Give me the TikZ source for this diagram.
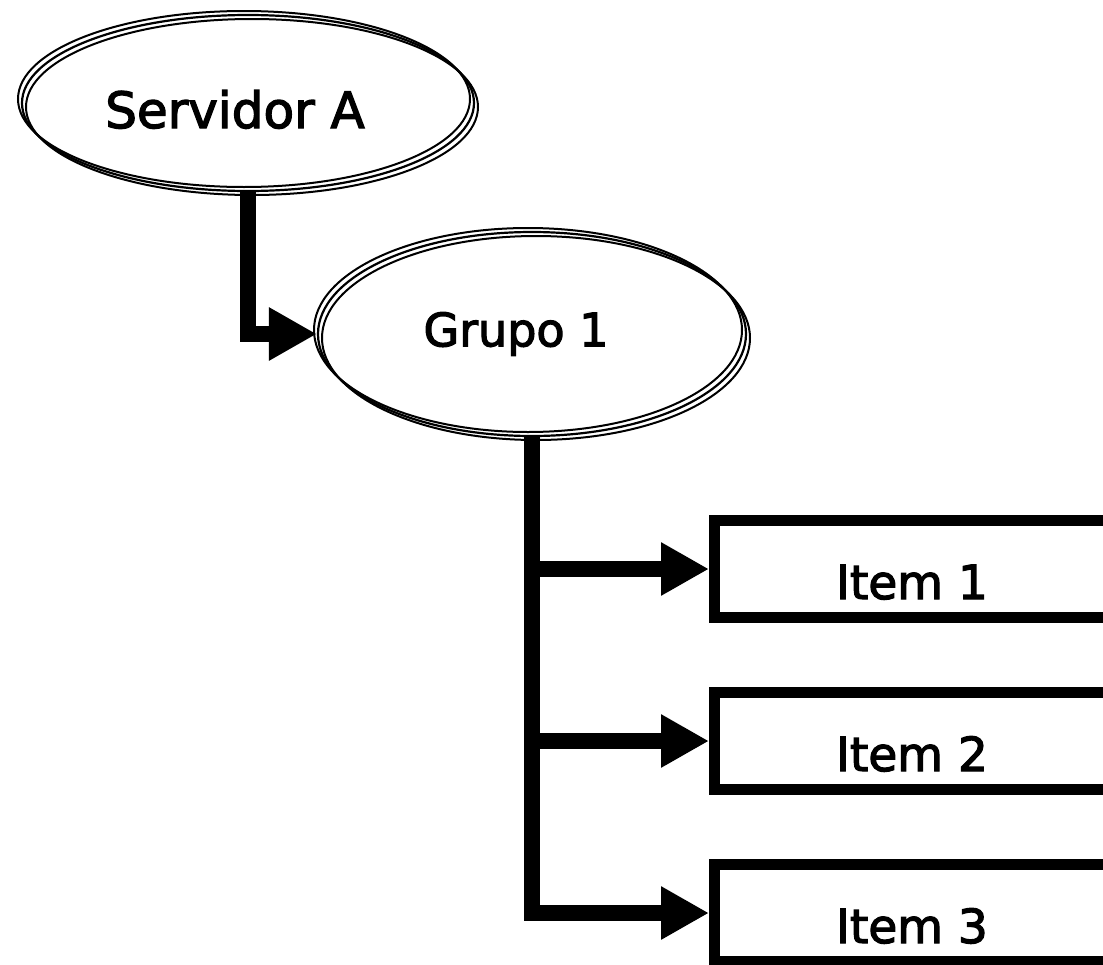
\documentclass[tikz,border=0pt]{standalone}
\usepackage{fontspec}
\newfontfamily\labelfont[FakeBold=2.6]{DejaVu Sans}
\usetikzlibrary{shapes.geometric,arrows.meta}
\begin{document}
\begin{tikzpicture}[x=1pt,y=-1pt,
  oval/.style={ellipse, fill=white, draw=black, line width=2.2pt, inner sep=0pt},
  rim/.style={draw=black, line width=2pt},
  itembox/.style={rectangle, draw=black, fill=white, line width=11pt, inner sep=0pt,
    minimum width=395pt, minimum height=97pt, text height=60pt, text depth=0pt,
    font=\labelfont\fontsize{47}{50}\selectfont},
  conn/.style={line width=16pt, line join=miter, -{Triangle[length=48pt,width=50pt]}}]
\useasboundingbox (0,0) rectangle (1103,964);
\clip (0,0) rectangle (1103,964);

% ellipses with a triple outline
\node[oval, minimum width=452pt, minimum height=176pt, text height=50pt, text depth=0pt,
  font=\labelfont\fontsize{50}{54}\selectfont]
  (serv) at (248,103) {Servidor A\kern26pt};
\draw[rim] ([shift={(-4,-4)}]serv.center) ellipse [x radius=226, y radius=88];
\draw[rim] ([shift={(4,4)}]serv.center) ellipse [x radius=226, y radius=88];

\node[oval, minimum width=428pt, minimum height=204pt,
  font=\labelfont\fontsize{46}{50}\selectfont]
  (grp) at (532,334) {Grupo 1\kern32pt};
\draw[rim] ([shift={(-4,-4)}]grp.center) ellipse [x radius=214, y radius=102];
\draw[rim] ([shift={(4,4)}]grp.center) ellipse [x radius=214, y radius=102];

% item boxes, running past the right edge
\node[itembox] (i1) at (912,569) {Item 1};
\node[itembox] (i2) at (912,741) {Item 2};
\node[itembox] (i3) at (912,913) {Item 3};

% connectors
\draw[conn] (serv.south) |- (grp.west);
\draw[conn] (grp.south) |- (i3.west);
\draw[conn] (grp.south |- i1.west) -- (i1.west);
\draw[conn] (grp.south |- i2.west) -- (i2.west);
\end{tikzpicture}
\end{document}
